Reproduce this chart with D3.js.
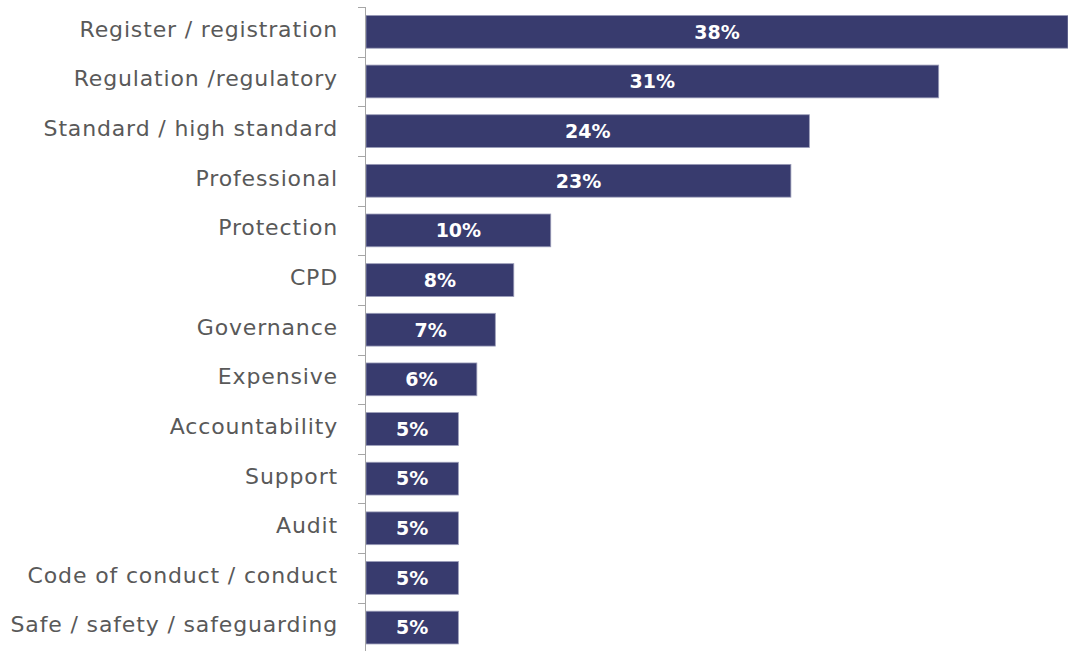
<!DOCTYPE html>
<html>
<head>
<meta charset="utf-8">
<script src="https://cdn.jsdelivr.net/npm/d3@7"></script>
<style>
  body { margin: 0; background: #fff; }
  text { font-family: "DejaVu Sans", sans-serif; }
</style>
</head>
<body>
<div class="canvas"></div>
<script>
const categories = [
  'Register / registration', 'Regulation /regulatory', 'Standard / high standard',
  'Professional', 'Protection', 'CPD', 'Governance', 'Expensive',
  'Accountability', 'Support', 'Audit', 'Code of conduct / conduct',
  'Safe / safety / safeguarding'
];
const values = [38, 31, 24, 23, 10, 8, 7, 6, 5, 5, 5, 5, 5];

const WIDTH = 1068, HEIGHT = 651;
const MARGIN = { left: 366, right: 0, top: 7, bottom: -1.4 };

const svg = d3.select('.canvas').append('svg')
  .attr('width', WIDTH)
  .attr('height', HEIGHT);

const x = d3.scaleLinear().domain([0, 38]).range([MARGIN.left, WIDTH]);
const y = d3.scaleBand()
  .domain(categories)
  .range([MARGIN.top, HEIGHT - MARGIN.bottom])
  .paddingInner(0.34)
  .paddingOuter(0.17);

const data = categories.map((c, i) => ({ cat: c, val: values[i] }));

// bars
svg.append('g').selectAll('rect')
  .data(data).join('rect')
  .attr('x', x(0))
  .attr('y', d => y(d.cat))
  .attr('width', d => x(d.val) - x(0))
  .attr('height', y.bandwidth())
  .attr('fill', '#383b6e')
  .attr('stroke', '#9a9cb8')
  .attr('stroke-width', 0.8);

// value labels
svg.append('g').selectAll('text')
  .data(data).join('text')
  .attr('x', d => (x(0) + x(d.val)) / 2)
  .attr('y', d => y(d.cat) + y.bandwidth() / 2)
  .attr('dy', '0.36em')
  .attr('text-anchor', 'middle')
  .attr('fill', '#fff')
  .attr('font-weight', 'bold')
  .attr('font-size', 19)
  .text(d => d.val + '%');

// axis line + ticks at band boundaries
const axis = svg.append('g').attr('stroke', '#a6a6a6').attr('stroke-width', 1);
axis.append('line')
  .attr('x1', x(0) - 0.5).attr('x2', x(0) - 0.5)
  .attr('y1', MARGIN.top).attr('y2', HEIGHT);
const step = y.step();
const bounds = d3.range(categories.length + 1).map(i => y.range()[0] + i * step);
axis.selectAll('line.tick')
  .data(bounds).join('line')
  .attr('class', 'tick')
  .attr('x1', x(0) - 8).attr('x2', x(0))
  .attr('y1', d => Math.round(d) + 0.5)
  .attr('y2', d => Math.round(d) + 0.5);

// category labels
svg.append('g').selectAll('text')
  .data(data).join('text')
  .attr('x', x(0) - 28)
  .attr('y', d => y(d.cat) + y.bandwidth() / 2 - 3)
  .attr('dy', '0.36em')
  .attr('text-anchor', 'end')
  .attr('fill', '#595959')
  .attr('font-size', 22)
  .attr('letter-spacing', 0.85)
  .text(d => d.cat);
</script>
</body>
</html>
